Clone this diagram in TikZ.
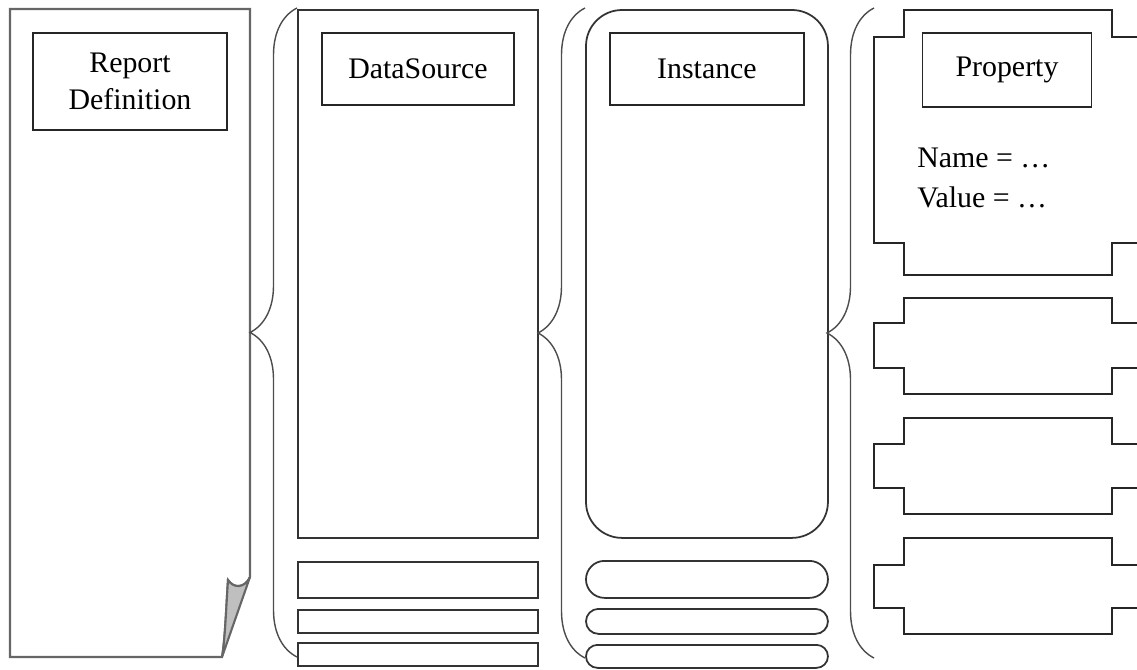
\documentclass[tikz,border=0pt]{standalone}
\usepackage{fontspec}
\setmainfont{Liberation Serif}
\usepackage{tikz}
\usetikzlibrary{positioning,shapes.misc,decorations.pathreplacing}
\tikzset{
    %Define style for the tall holders
    holder/.style={
           rectangle,
           draw=black!80, line width=1pt,
           inner sep=0pt, outer sep=0pt,
           minimum width=4.8cm},
    %Define style for the instance pills
    pill/.style={
           rounded rectangle,
           draw=black!80, line width=1pt,
           inner sep=0pt, outer sep=0pt,
           minimum width=4.84cm},
    %Define style for title boxes
    titlebox/.style={
           rectangle,
           draw=black!85, line width=1pt,
           outer sep=0pt,
           align=center,
           minimum height=1.44cm,
           font=\fontsize{17}{21}\selectfont},
    % Define brace style
    bracket/.style={
           draw=black!70, line width=0.8pt,
           decorate,
           decoration={brace, amplitude=0.94cm}},
    pageline/.style={draw=black!60, line width=1.2pt},
    notch/.style={draw=black!85, line width=1pt}
}
% property box with notched sides: top, notch top, notch bottom, bottom
\newcommand{\notchbox}[4]{%
  \draw[notch] (1145,#2) -- (1112,#2) -- (1112,#1) -- (904,#1) -- (904,#2)
     -- (874,#2) -- (874,#3) -- (904,#3) -- (904,#4) -- (1112,#4)
     -- (1112,#3) -- (1145,#3);}

\begin{document}
\begin{tikzpicture}[x=0.02cm,y=-0.02cm]
\useasboundingbox (0,0) rectangle (1137,670);
\clip (0,0) rectangle (1137,670);

 %report page with folded corner
\draw[pageline] (10,9) -- (250,9) -- (250,577)
    .. controls (245,588) and (234,589) .. (228,580)
    .. controls (226,610) and (225,640) .. (222,657) -- (10,657) -- cycle;
\draw[pageline, fill=black!25] (250,577)
    .. controls (245,588) and (234,589) .. (228,580)
    .. controls (226,610) and (225,640) .. (222,657) -- cycle;
\coordinate (pagetop) at (130,9);
\node[titlebox, minimum width=3.88cm, minimum height=1.94cm, below=0.48cm of pagetop](report){Report\\Definition};

 %data sources
\node[holder, minimum height=10.56cm, anchor=north west] (dsmain) at (298,10) {};
\node[holder, minimum height=0.72cm, below=0.48cm of dsmain] (ds1) {};
\node[holder, minimum height=0.46cm, below=0.24cm of ds1] (ds2) {};
\node[holder, minimum height=0.46cm, below=0.2cm of ds2] (ds3) {};
\node[titlebox, minimum width=3.84cm, below=0.46cm of dsmain.north] (dslabel) {DataSource};

 %instances
\node[holder, minimum width=4.84cm, minimum height=10.56cm, rounded corners=0.72cm, anchor=north west] (instmain) at (586,10) {};
\node[pill, minimum height=0.74cm, below=0.46cm of instmain] (inst1) {};
\node[pill, minimum height=0.5cm, below=0.22cm of inst1] (inst2) {};
\node[pill, minimum height=0.46cm, below=0.22cm of inst2] (inst3) {};
\node[titlebox, minimum width=3.88cm, below=0.46cm of instmain.north] (instlabel) {Instance};

 %properties
\notchbox{10}{37}{243}{275}
\notchbox{298}{323}{368}{394}
\notchbox{418}{444}{488}{514}
\notchbox{538}{565}{608}{634}
\coordinate (proptop) at (1007,10);
\node[titlebox, minimum width=3.38cm, minimum height=1.48cm, below=0.46cm of proptop] (proplabel) {Property};
\node[anchor=base west, inner sep=0pt, font=\fontsize{17}{21}\selectfont] (namefield) at (917,167) {Name = …};
\node[anchor=base west, inner sep=0pt, font=\fontsize{17}{21}\selectfont] (valuefield) at (917,207) {Value = …};

 %braces
\coordinate (b1top) at (297,8);
\coordinate (b1bot) at (297,657);
\coordinate (b2top) at (585,8);
\coordinate (b2bot) at (585,658);
\coordinate (b3top) at (874,8);
\coordinate (b3bot) at (874,658);
\draw[bracket] (b1bot) -- (b1top);
\draw[bracket] (b2bot) -- (b2top);
\draw[bracket] (b3bot) -- (b3top);
\end{tikzpicture}
\end{document}
